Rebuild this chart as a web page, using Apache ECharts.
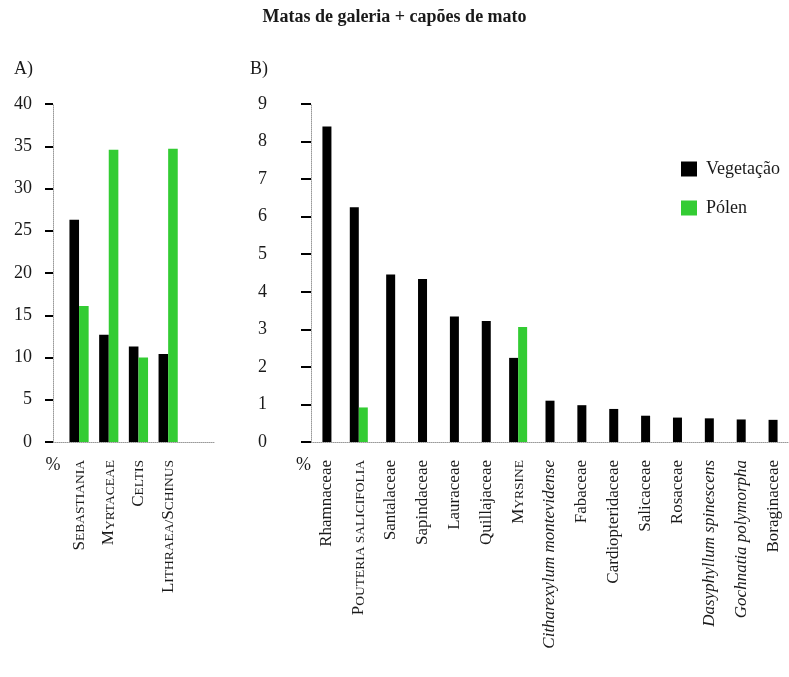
<!DOCTYPE html>
<html>
<head>
<meta charset="utf-8">
<title>Matas de galeria + capões de mato</title>
<script src="https://cdn.jsdelivr.net/npm/echarts@6/dist/echarts.min.js"></script>
<style>
  html, body { margin: 0; padding: 0; background: #ffffff; }
  #chart { width: 789px; height: 677px; }
</style>
</head>
<body>
<div id="chart"></div>
<script>
// ---- data -------------------------------------------------------------
const titleText = 'Matas de galeria + capões de mato';
const panelLabels = ['A)', 'B)'];
const seriesNames = ['Vegetação', 'Pólen'];
const unitLabel = '%';

// Panel A: genera / families (all written in small caps)
const taxaA = ['Sebastiania', 'Myrtaceae', 'Celtis', 'Lithraea/Schinus'];
const labelStyleA = ['sc', 'sc', 'sc', 'sc'];
const vegetacaoA = [26.3, 12.7, 11.3, 10.4];
const polenA = [16.1, 34.6, 10.0, 34.7];
const yTicksA = [0, 5, 10, 15, 20, 25, 30, 35, 40];

// Panel B: sc = small caps, it = italic, '' = roman
const taxaB = ['Rhamnaceae', 'Pouteria salicifolia', 'Santalaceae', 'Sapindaceae',
  'Lauraceae', 'Quillajaceae', 'Myrsine', 'Citharexylum montevidense', 'Fabaceae',
  'Cardiopteridaceae', 'Salicaceae', 'Rosaceae', 'Dasyphyllum spinescens',
  'Gochnatia polymorpha', 'Boraginaceae'];
const labelStyleB = ['', 'sc', '', '', '', '', 'sc', 'it', '', '', '', '', 'it', 'it', ''];
const vegetacaoB = [8.40, 6.25, 4.46, 4.34, 3.34, 3.22, 2.24, 1.10, 0.98, 0.88, 0.70, 0.65, 0.63, 0.60, 0.59];
const polenB = [0, 0.92, 0, 0, 0, 0, 3.06, 0, 0, 0, 0, 0, 0, 0, 0];
const yTicksB = [0, 1, 2, 3, 4, 5, 6, 7, 8, 9];

// ---- styling ----------------------------------------------------------
const SERIF = "'Liberation Serif', 'DejaVu Serif', 'Times New Roman', serif";
const TXT = '#1a1a1a';
const COLOR_VEG = '#000000';
const COLOR_POL = '#33cc33';
const DOT_LINE = { color: '#9a9a9a', type: 'dotted', width: 1 };

const richStyles = {
  rm: { fontFamily: SERIF, fontSize: 17, color: TXT, verticalAlign: 'bottom' },
  it: { fontFamily: SERIF, fontSize: 17, color: TXT, fontStyle: 'italic', verticalAlign: 'bottom' },
  capBig: { fontFamily: SERIF, fontSize: 17, color: TXT, verticalAlign: 'bottom' },
  capSmall: { fontFamily: SERIF, fontSize: 13.5, color: TXT, verticalAlign: 'bottom' }
};

// Builds rich text for a taxon name in the requested typographic style.
function taxonLabel(name, style) {
  if (style === 'it') return '{it|' + name + '}';
  if (style === 'sc') {
    return name.match(/[A-Z]+|[^A-Z]+/g).map(function (run) {
      return /[A-Z]/.test(run) ? '{capBig|' + run + '}' : '{capSmall|' + run.toUpperCase() + '}';
    }).join('');
  }
  return '{rm|' + name + '}';
}

// Paired bars (vegetation left, pollen right) or a single centred bar.
function barRenderer(which, barW) {
  return function (params, api) {
    const idx = api.value(0);
    const veg = api.value(1);
    const pol = api.value(2);
    const v = which === 'veg' ? veg : pol;
    if (!(v > 0)) return null;
    const paired = veg > 0 && pol > 0;
    const base = api.coord([idx, 0]);
    const top = api.coord([idx, v]);
    let x0;
    if (!paired) x0 = base[0] - barW / 2;
    else x0 = which === 'veg' ? base[0] - barW : base[0];
    return {
      type: 'rect',
      shape: { x: x0, y: top[1], width: barW, height: base[1] - top[1] },
      style: { fill: api.visual('color') }
    };
  };
}

function rows(taxa, veg, pol) {
  return taxa.map(function (t, i) { return [i, veg[i], pol[i]]; });
}

function valueAxis(gridIndex, ticks, tickLen, margin, nameAlign) {
  return {
    type: 'value',
    gridIndex: gridIndex,
    min: ticks[0],
    max: ticks[ticks.length - 1],
    interval: ticks[1] - ticks[0],
    axisLine: { show: true, lineStyle: DOT_LINE },
    axisTick: { show: true, length: tickLen, lineStyle: { color: '#000', width: 2 } },
    axisLabel: { margin: margin, fontFamily: SERIF, fontSize: 18, color: TXT },
    splitLine: { show: false },
    name: unitLabel,
    nameLocation: 'start',
    nameGap: 14,
    nameTextStyle: { fontFamily: SERIF, fontSize: 18, color: TXT, align: nameAlign, verticalAlign: 'top' }
  };
}

const chart = echarts.init(document.getElementById('chart'), null, { renderer: 'canvas' });

chart.setOption({
  animation: false,
  backgroundColor: '#ffffff',
  textStyle: { fontFamily: SERIF },
  title: [
    { text: titleText, left: 'center', top: 8, padding: 0,
      textStyle: { fontFamily: SERIF, fontSize: 18, fontWeight: 'bold', color: TXT } },
    { text: panelLabels[0], left: 14, top: 60, padding: 0,
      textStyle: { fontFamily: SERIF, fontSize: 18, fontWeight: 'normal', color: TXT } },
    { text: panelLabels[1], left: 250, top: 60, padding: 0,
      textStyle: { fontFamily: SERIF, fontSize: 18, fontWeight: 'normal', color: TXT } }
  ],
  legend: {
    data: seriesNames,
    orient: 'vertical',
    left: 681,
    top: 160,
    padding: 0,
    icon: 'rect',
    itemWidth: 16,
    itemHeight: 15,
    itemGap: 21,
    textStyle: { fontFamily: SERIF, fontSize: 18, color: TXT, padding: [0, 0, 0, 4] }
  },
  grid: [
    // panel A frame (axis lines and y scale)
    { left: 53, top: 104, width: 162, bottom: 235 },
    // panel A bars
    { left: 64.2, top: 104, width: 118.8, bottom: 235 },
    // panel B
    { left: 311, top: 104, right: 0, bottom: 235 }
  ],
  xAxis: [
    { type: 'value', gridIndex: 0, min: 0, max: 1,
      axisLine: { show: true, lineStyle: DOT_LINE },
      axisTick: { show: false }, axisLabel: { show: false }, splitLine: { show: false } },
    { type: 'category', gridIndex: 1, data: taxaA,
      axisLine: { show: false }, axisTick: { show: false },
      axisLabel: { rotate: 90, margin: 18, interval: 0,
        formatter: function (v, i) { return taxonLabel(v, labelStyleA[i]); },
        rich: richStyles } },
    { type: 'category', gridIndex: 2, data: taxaB,
      axisLine: { show: true, lineStyle: DOT_LINE }, axisTick: { show: false },
      axisLabel: { rotate: 90, margin: 18, interval: 0,
        formatter: function (v, i) { return taxonLabel(v, labelStyleB[i]); },
        rich: richStyles } }
  ],
  yAxis: [
    valueAxis(0, yTicksA, 8, 21, 'center'),
    { type: 'value', gridIndex: 1, min: yTicksA[0], max: yTicksA[yTicksA.length - 1], show: false },
    valueAxis(2, yTicksB, 10, 44, 'right')
  ],
  series: [
    { name: seriesNames[0], type: 'custom', xAxisIndex: 1, yAxisIndex: 1,
      itemStyle: { color: COLOR_VEG }, encode: { x: 0, y: 1 },
      renderItem: barRenderer('veg', 9.6), data: rows(taxaA, vegetacaoA, polenA) },
    { name: seriesNames[1], type: 'custom', xAxisIndex: 1, yAxisIndex: 1,
      itemStyle: { color: COLOR_POL }, encode: { x: 0, y: 2 },
      renderItem: barRenderer('pol', 9.6), data: rows(taxaA, vegetacaoA, polenA) },
    { name: seriesNames[0], type: 'custom', xAxisIndex: 2, yAxisIndex: 2,
      itemStyle: { color: COLOR_VEG }, encode: { x: 0, y: 1 },
      renderItem: barRenderer('veg', 9), data: rows(taxaB, vegetacaoB, polenB) },
    { name: seriesNames[1], type: 'custom', xAxisIndex: 2, yAxisIndex: 2,
      itemStyle: { color: COLOR_POL }, encode: { x: 0, y: 2 },
      renderItem: barRenderer('pol', 9), data: rows(taxaB, vegetacaoB, polenB) }
  ]
});
</script>
</body>
</html>
